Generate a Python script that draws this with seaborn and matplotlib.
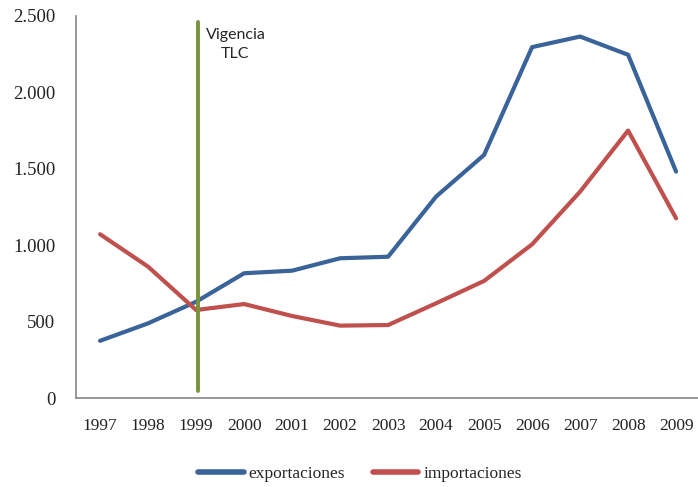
import seaborn as sns
import matplotlib.pyplot as plt
import matplotlib.ticker as mticker
import pandas as pd

years = [1997, 1998, 1999, 2000, 2001, 2002, 2003, 2004, 2005, 2006, 2007, 2008, 2009]
exportaciones = [376, 490, 631, 817, 834, 915, 925, 1318, 1590, 2294, 2363, 2244, 1481]
importaciones = [1072, 860, 577, 616, 538, 475, 479, 621, 767, 1006, 1350, 1749, 1176]
series_names = ["exportaciones", "importaciones"]

df = pd.DataFrame({
    "year": years * 2,
    "valor": exportaciones + importaciones,
    "serie": [series_names[0]] * len(years) + [series_names[1]] * len(years),
})

sns.set_style("white")
colors = ["#3A6399", "#C0504D"]

fig = plt.figure(figsize=(6.98, 4.87), dpi=100)
ax = fig.add_axes([0.109, 0.182, 0.894, 0.786])

sns.lineplot(data=df, x="year", y="valor", hue="serie", palette=colors,
             linewidth=3.0, ax=ax, legend=False)

# linea de vigencia del TLC
ax.plot([1999.05, 1999.05], [50, 2455], color="#77933C", linewidth=2.8, zorder=3)
ax.text(1999.82, 2310, "Vigencia\nTLC", ha="center", va="center",
        fontsize=11.5, family="Lato", linespacing=1.5)

ax.set_xlim(1996.5, 2009.5)
ax.set_ylim(0, 2500)
ax.set_xticks(years)
ax.set_xticks([y - 0.5 for y in years] + [2009.5], minor=True)
ax.tick_params(axis="x", which="major", length=0, pad=14)
ax.tick_params(axis="x", which="minor", length=5, color="#888888", width=1)
ax.tick_params(axis="y", length=6, color="#888888", width=1, pad=9)
ax.set_yticks([0, 500, 1000, 1500, 2000, 2500])
ax.yaxis.set_major_formatter(mticker.FuncFormatter(lambda v, p: f"{int(v):,}".replace(",", ".")))
for lab in ax.get_xticklabels():
    lab.set_family("Liberation Serif")
    lab.set_fontsize(12.5)
    lab.set_color("#222222")
for lab in ax.get_yticklabels():
    lab.set_family("Liberation Serif")
    lab.set_fontsize(13.5)
    lab.set_color("#222222")

for s in ["top", "right"]:
    ax.spines[s].set_visible(False)
for s in ["left", "bottom"]:
    ax.spines[s].set_color("#888888")
    ax.spines[s].set_linewidth(1.2)
ax.set_xlabel("")
ax.set_ylabel("")

handles = [plt.Line2D([], [], color=c, linewidth=4) for c in colors]
fig.legend(handles, series_names, loc="center", bbox_to_anchor=(0.516, 0.026),
           ncol=2, frameon=False, prop={"family": "Liberation Serif", "size": 12.5},
           handlelength=2.6, handletextpad=0.3, columnspacing=1.6)

fig.savefig("out.png", dpi=100)
